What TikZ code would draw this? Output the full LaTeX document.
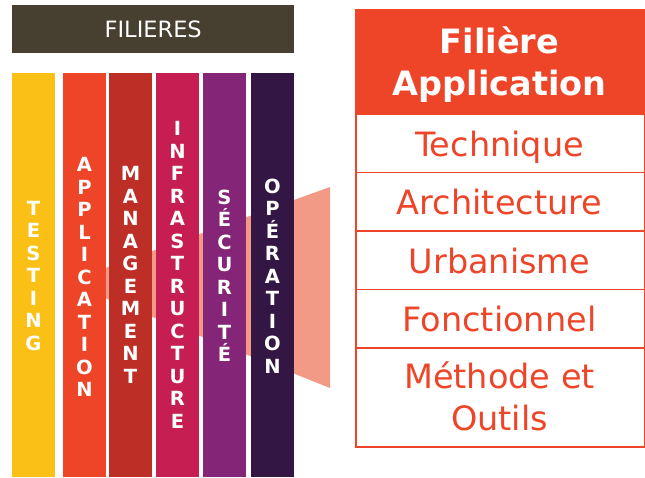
\documentclass[tikz,border=0pt]{standalone}
\usepackage{fontspec}
\setmainfont{DejaVu Sans}
\definecolor{titlebg}{HTML}{473F2F}
\definecolor{cyellow}{HTML}{FBC015}
\definecolor{appred}{HTML}{EE4529}
\definecolor{cmgmt}{HTML}{BD2F26}
\definecolor{cinfra}{HTML}{C61E52}
\definecolor{csecu}{HTML}{842577}
\definecolor{coper}{HTML}{331643}
\definecolor{salmon}{HTML}{F39A87}
\begin{document}
\begin{tikzpicture}[x=1pt,y=-1pt,
  bar/.style={draw=none, minimum width=43pt, minimum height=404pt, inner sep=0pt, outer sep=0pt, anchor=north west},
  vlabel/.style={text=white, font=\fontsize{19.5}{22.5}\selectfont\bfseries, align=center, inner sep=0pt},
  rowbox/.style={draw=appred, line width=1.8pt, minimum width=289pt, inner sep=0pt, anchor=north west},
  rowtext/.style={text=appred, font=\fontsize{33.5}{41.5}\selectfont, align=center, inner sep=0pt, anchor=base}]
\useasboundingbox (0,0) rectangle (645,477);
% title
\node[fill=titlebg, minimum width=282pt, minimum height=48pt, inner sep=0pt, anchor=north west,
  text=white, font=\fontsize{22.5}{26}\selectfont] (title) at (12,5) {FILIERES};
% funnel
\fill[salmon] (100,270) -- (330,187) -- (330,388) -- (100,296) -- cycle;
% bars
\node[bar, fill=cyellow] (b1) at (12,73) {};
\node[bar, fill=appred] (b2) at (63,73) {};
\node[bar, fill=cmgmt] (b3) at (109,73) {};
\node[bar, fill=cinfra] (b4) at (156,73) {};
\node[bar, fill=csecu] (b5) at (203,73) {};
\node[bar, fill=coper] (b6) at (251,73) {};
\node[vlabel] (l1) at (33.5,276) {T\\E\\S\\T\\I\\N\\G};
\node[vlabel] (l2) at (84.5,277) {A\\P\\P\\L\\I\\C\\A\\T\\I\\O\\N};
\node[vlabel] (l3) at (130.5,275) {M\\A\\N\\A\\G\\E\\M\\E\\N\\T};
\node[vlabel] (l4) at (177.5,275) {I\\N\\F\\R\\A\\S\\T\\R\\U\\C\\T\\U\\R\\E};
\node[vlabel] (l5) at (224.5,276) {S\\É\\C\\U\\R\\I\\T\\É};
\node[vlabel] (l6) at (272.5,276) {O\\P\\É\\R\\A\\T\\I\\O\\N};
% table
\node[rowbox, fill=appred, minimum height=104pt] (h) at (355,9) {};
\node[rowbox, minimum height=58.5pt] (r1) at (355,113) {};
\node[rowbox, minimum height=58.5pt] (r2) at (355,171.5) {};
\node[rowbox, minimum height=58.5pt] (r3) at (355,230) {};
\node[rowbox, minimum height=58.5pt] (r4) at (355,288.5) {};
\node[rowbox, minimum height=99pt] (r5) at (355,347) {};
\node[rowtext, text=white, font=\fontsize{33.5}{41.5}\selectfont\bfseries] (th) at (499.5,95) {Filière\\Application};
\node[rowtext] (t1) at (499.5,156) {Technique};
\node[rowtext] (t2) at (499.5,214) {Architecture};
\node[rowtext] (t3) at (499.5,273) {Urbanisme};
\node[rowtext] (t4) at (499.5,331) {Fonctionnel};
\node[rowtext] (t5) at (499.5,430) {Méthode et\\Outils};
\end{tikzpicture}
\end{document}
